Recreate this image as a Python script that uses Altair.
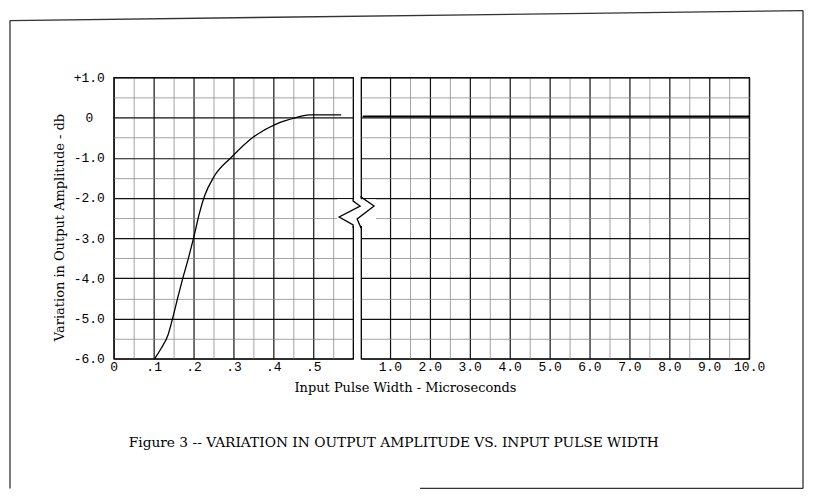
import altair as alt
import pandas as pd

# ---------------- data ----------------
# short pulse widths (left panel, microseconds)
pulse_short = [0.1025, 0.119, 0.136, 0.148, 0.160, 0.173, 0.186, 0.200, 0.2155,
               0.228, 0.253, 0.295, 0.349, 0.407, 0.457, 0.490, 0.570]
db_short = [-6.0, -5.74, -5.41, -4.98, -4.50, -4.00, -3.54, -3.00, -2.35,
            -1.94, -1.44, -0.985, -0.49, -0.16, 0.00, 0.07, 0.07]

# long pulse widths (right panel, microseconds)
pulse_long = [0.32, 10.0]
db_long = [0.03, 0.03]

# axis ticks / labels
y_ticks = [1.0, 0.0, -1.0, -2.0, -3.0, -4.0, -5.0, -6.0]
y_tick_labels = ["+1.0", "0", "-1.0", "-2.0", "-3.0", "-4.0", "-5.0", "-6.0"]
x_short_ticks = [0.0, 0.1, 0.2, 0.3, 0.4, 0.5]
x_short_labels = ["0", ".1", ".2", ".3", ".4", ".5"]
x_long_ticks = [1.0, 2.0, 3.0, 4.0, 5.0, 6.0, 7.0, 8.0, 9.0, 10.0]
x_long_labels = ["1.0", "2.0", "3.0", "4.0", "5.0", "6.0", "7.0", "8.0", "9.0", "10.0"]

y_title = "Variation in Output Amplitude - db"
x_title = "Input Pulse Width - Microseconds"
caption = "Figure 3 -- VARIATION IN OUTPUT AMPLITUDE VS. INPUT PULSE WIDTH"

# axis-break zigzag (right-panel data coordinates)
zig_left_x = [0.08, 0.08, 0.255, -0.27, 0.08, 0.08]
zig_left_y = [-2.00, -2.077, -2.201, -2.474, -2.672, -2.75]
zig_right_x = [0.28, 0.28, 0.605, 0.18, 0.28]
zig_right_y = [-1.95, -1.978, -2.201, -2.524, -2.75]
gap_x = [-0.32, 0.655]
gap_y = [-2.03, -2.70]

# ---------------- helpers ----------------
def label_expr(vals, labels):
    parts = [f"abs(datum.value - ({v})) < 1e-6 ? '{l}'" for v, l in zip(vals, labels)]
    return " : ".join(parts) + " : ''"

def grid_cond(test, major, minor):
    return {"condition": {"test": test, "value": major}, "value": minor}

MAJ_TENTH = "abs(datum.value*10 - round(datum.value*10)) < 0.001"
MAJ_UNIT = "abs(datum.value - round(datum.value)) < 0.001"

LABEL_FONT = "Liberation Mono"
TEXT_FONT = "DejaVu Serif"
LABEL_SIZE = 13

y_grid_vals = [round(-6 + 0.5 * i, 2) for i in range(15)]
x_short_grid = [round(0.05 * i, 2) for i in range(12)]
x_long_grid = [round(1.0 + 0.5 * i, 2) for i in range(19)]

y_dom = [-6, 1]
xs_dom = [0, 0.6]
xl_dom = [0.28, 10]

y_axis_left = alt.Axis(
    values=y_grid_vals, labelExpr=label_expr(y_ticks, y_tick_labels),
    grid=True, ticks=False, domain=False,
    gridColor=grid_cond(MAJ_UNIT, "#111111", "#8c8c8c"),
    gridWidth=grid_cond(MAJ_UNIT, 1.2, 0.8),
    labelFont=LABEL_FONT, labelFontSize=LABEL_SIZE, labelColor="black",
    labelAlign="center", labelPadding=25, labelBaseline="middle",
    title=y_title, titleFont=TEXT_FONT, titleFontSize=13, titleFontWeight="normal",
    titleColor="black", titleX=-54, titleY=150, titleAngle=-90,
    titleAlign="center", titleBaseline="middle",
)
y_axis_right = alt.Axis(
    values=y_grid_vals, labels=False, grid=True, ticks=False, domain=False, title=None,
    gridColor=grid_cond(MAJ_UNIT, "#111111", "#8c8c8c"),
    gridWidth=grid_cond(MAJ_UNIT, 1.2, 0.8),
)
x_axis_left = alt.Axis(
    values=x_short_grid, labelExpr=label_expr(x_short_ticks, x_short_labels),
    grid=True, ticks=False, domain=False, title=None,
    gridColor=grid_cond(MAJ_TENTH, "#111111", "#8c8c8c"),
    gridWidth=grid_cond(MAJ_TENTH, 1.2, 0.8),
    labelFont=LABEL_FONT, labelFontSize=LABEL_SIZE, labelColor="black", labelPadding=2,
    labelFlush=False,
)
x_axis_right = alt.Axis(
    values=x_long_grid, labelExpr=label_expr(x_long_ticks, x_long_labels),
    grid=True, ticks=False, domain=False,
    gridColor=grid_cond(MAJ_UNIT, "#111111", "#8c8c8c"),
    gridWidth=grid_cond(MAJ_UNIT, 1.2, 0.8),
    labelFont=LABEL_FONT, labelFontSize=LABEL_SIZE, labelColor="black", labelPadding=2,
    labelFlush=False,
    title=x_title, titleFont=TEXT_FONT, titleFontSize=13, titleFontWeight="normal",
    titleColor="black", titleX=44, titleY=29, titleAlign="center", titleBaseline="middle",
)

def xs(axis=x_axis_left):
    return alt.X("x:Q", scale=alt.Scale(domain=xs_dom, nice=False, zero=False), axis=axis)

def xl(axis=x_axis_right, field="x:Q"):
    return alt.X(field, scale=alt.Scale(domain=xl_dom, nice=False, zero=False), axis=axis)

def yy(axis, field="y:Q"):
    return alt.Y(field, scale=alt.Scale(domain=y_dom, nice=False, zero=False), axis=axis)

# ---------------- left panel ----------------
df_short = pd.DataFrame({"x": pulse_short, "y": db_short})
left_curve = alt.Chart(df_short).mark_line(color="black", strokeWidth=1.3,
                                           interpolate="monotone").encode(
    x=xs(), y=yy(y_axis_left))

one = alt.Data(values=[{"caption": caption}])
border_color = "#333333"
b_left = alt.Chart(one).mark_rule(color=border_color, strokeWidth=1.3).encode(
    x=alt.value(-104), y=alt.value(-57), y2=alt.value(412))
b_top = alt.Chart(one).mark_rule(color=border_color, strokeWidth=1.3).encode(
    x=alt.value(-104), x2=alt.value(691), y=alt.value(-57), y2=alt.value(-67))
b_right = alt.Chart(one).mark_rule(color=border_color, strokeWidth=1.3).encode(
    x=alt.value(691), y=alt.value(-67), y2=alt.value(412))
b_bottom = alt.Chart(one).mark_rule(color=border_color, strokeWidth=1.3).encode(
    x=alt.value(307), x2=alt.value(691), y=alt.value(412))
caption_text = alt.Chart(one).mark_text(
    align="left", baseline="middle", font=TEXT_FONT, fontSize=13.8, color="black").encode(
    x=alt.value(15), y=alt.value(366), text="caption:N")

left = alt.layer(left_curve, b_left, b_top, b_right, b_bottom, caption_text).properties(
    width=240, height=282)

# ---------------- right panel ----------------
df_long = pd.DataFrame({"x": pulse_long, "y": db_long})
right_curve = alt.Chart(df_long).mark_line(color="black", strokeWidth=1.6).encode(
    x=xl(), y=yy(y_axis_right))

df_gap = pd.DataFrame({"x": [gap_x[0]], "x2": [gap_x[1]], "y": [gap_y[0]], "y2": [gap_y[1]]})
gap_rect = alt.Chart(df_gap).mark_rect(color="white", clip=False).encode(
    x=xl(), x2="x2:Q", y=yy(y_axis_right), y2="y2:Q")

df_zig = pd.DataFrame({
    "x": zig_left_x + zig_right_x,
    "y": zig_left_y + zig_right_y,
    "side": ["l"] * len(zig_left_x) + ["r"] * len(zig_right_x),
    "order": list(range(len(zig_left_x))) + list(range(len(zig_right_x))),
})
zig = alt.Chart(df_zig).mark_line(color="black", strokeWidth=1.3, clip=False).encode(
    x=xl(), y=yy(y_axis_right), detail="side:N", order="order:Q")

right = alt.layer(right_curve, gap_rect, zig).properties(width=389, height=282)

chart = alt.hconcat(left, right, spacing=8, bounds="flush").properties(
    padding=0, background="white"
).configure_view(stroke="black", strokeWidth=1.3)

chart.save("out.html", embed_options={"renderer": "svg", "actions": False})
